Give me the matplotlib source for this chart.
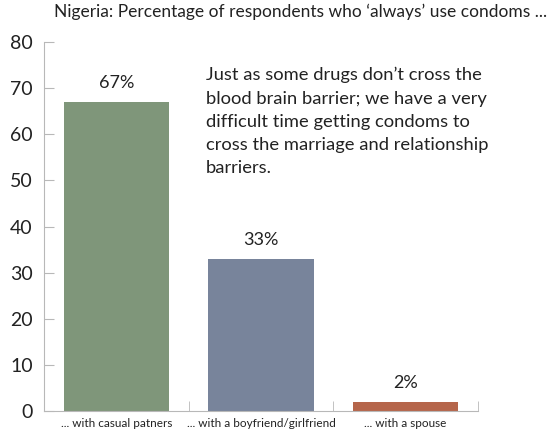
import matplotlib
matplotlib.use('Agg')
import matplotlib.pyplot as plt

categories = ['... with casual patners', '... with a boyfriend/girlfriend', '... with a spouse']
values = [67, 33, 2]
bar_labels = ['67%', '33%', '2%']
yticks = [0, 10, 20, 30, 40, 50, 60, 70, 80]
colors = ['#7f967a', '#78849b', '#b5654a']

plt.rcParams['font.family'] = ['Lato', 'DejaVu Sans']

fig = plt.figure(figsize=(5.55, 4.38), dpi=100)
ax = fig.add_axes([44 / 555, 27 / 438, 434 / 555, 369 / 438])

x = list(range(len(categories)))
bars = ax.bar(x, values, width=0.73, color=colors, zorder=2)
ax.set_xlim(-0.5, len(categories) - 0.5)
ax.set_ylim(0, 80)

# value labels
for b, lab in zip(bars, bar_labels):
    ax.annotate(lab, (b.get_x() + b.get_width() / 2, b.get_height()),
                xytext=(0, 8), textcoords='offset points',
                ha='center', va='bottom', fontsize=13, color='#222222')

# axes styling
for s in ['top', 'right']:
    ax.spines[s].set_visible(False)
ax.spines['left'].set_color('#b8b8b8')
ax.spines['bottom'].set_color('#b8b8b8')
ax.set_yticks(yticks)
ax.tick_params(axis='y', direction='in', length=7, color='#b8b8b8',
               labelsize=14, pad=8, labelcolor='#222222')
ax.set_xticks(x)
ax.set_xticklabels(categories, fontsize=8.5, color='#222222')
ax.tick_params(axis='x', length=0, pad=5)
# separators between categories
ax.set_xticks([0.5, 1.5, 2.5], minor=True)
ax.tick_params(axis='x', which='minor', direction='in', length=7, color='#b8b8b8')

fig.text(0.542, 0.972, 'Nigeria: Percentage of respondents who \u2018always\u2019 use condoms ...',
         ha='center', va='center', fontsize=12.5, color='#222222')

note = ('Just as some drugs don\u2019t cross the\n'
        'blood brain barrier; we have a very\n'
        'difficult time getting condoms to\n'
        'cross the marriage and relationship\n'
        'barriers.')
fig.text(206 / 555, 1 - 67 / 438, note, ha='left', va='top', fontsize=13.2,
         linespacing=1.55, color='#222222')

fig.savefig('out.png', dpi=100, facecolor='white')
